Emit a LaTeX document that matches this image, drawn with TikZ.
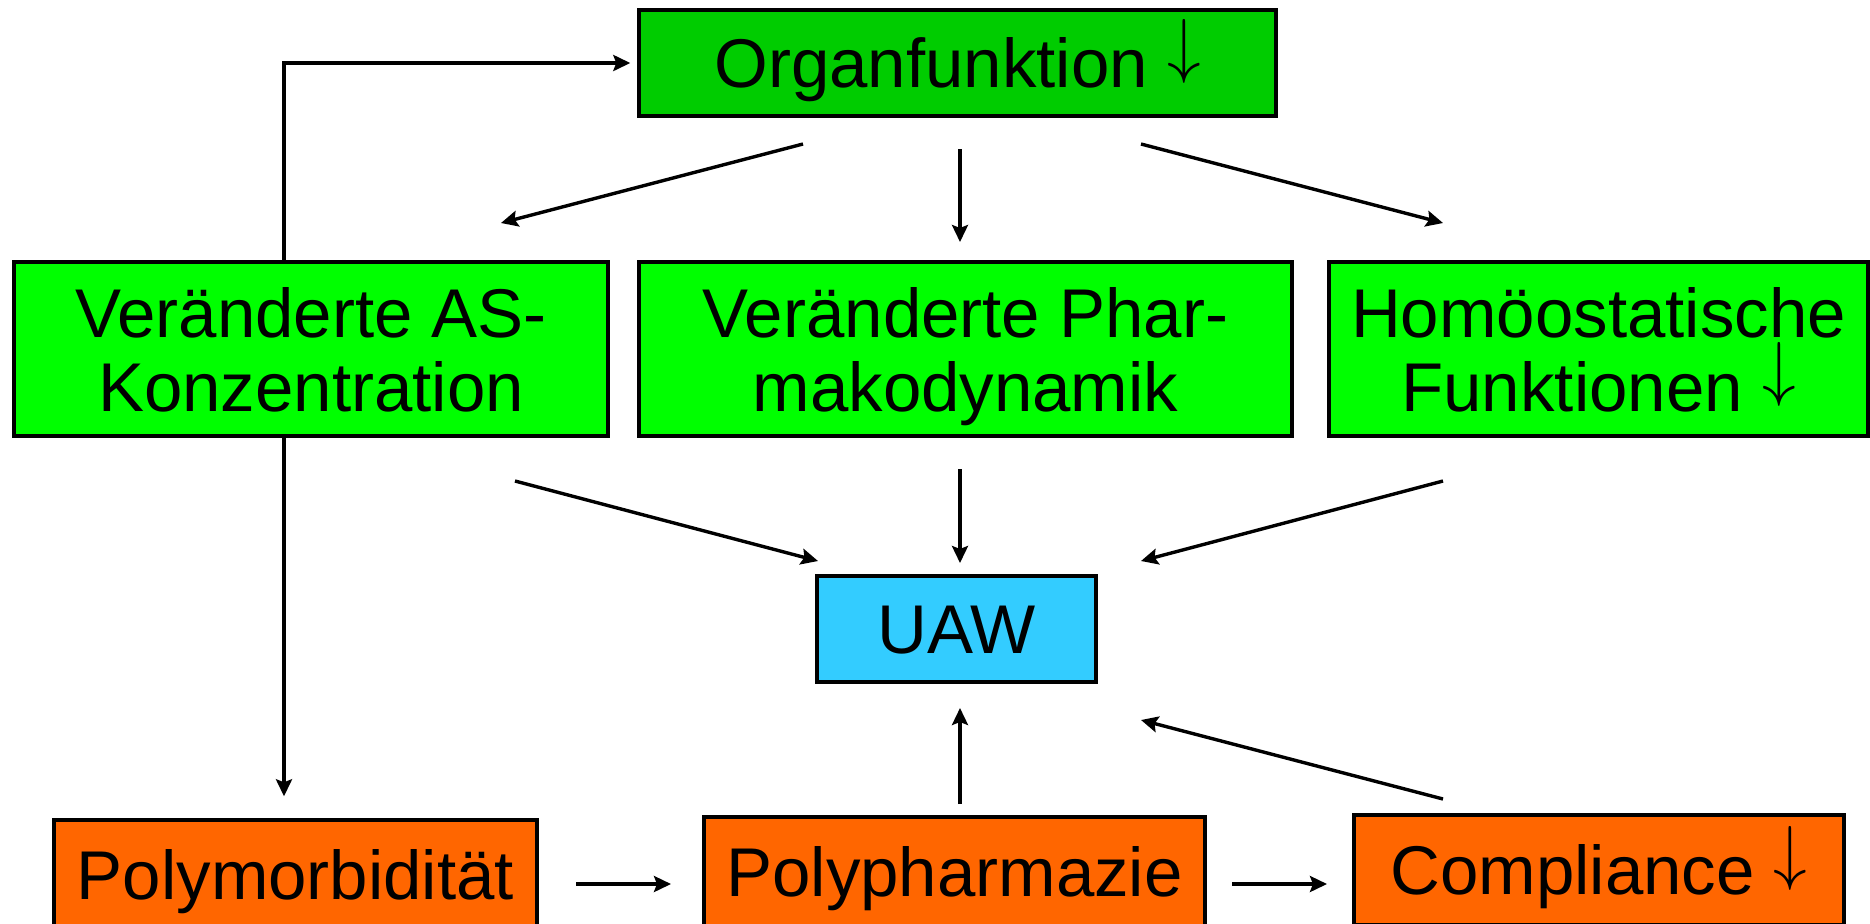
\documentclass[tikz,border=0pt]{standalone}
\usepackage{fontspec}
\setmainfont{Liberation Sans}
\usetikzlibrary{arrows.meta}
\definecolor{dunkelgruen}{HTML}{00CC00}
\definecolor{hellgruen}{HTML}{00FF00}
\definecolor{hellblau}{HTML}{33CCFF}
\definecolor{orange}{HTML}{FF6600}
\newcommand{\runter}{\raisebox{0.27em}[0.72em][0pt]{\scalebox{1.35}[1.45]{$\downarrow$}}}

\begin{document}
\begin{tikzpicture}[x=0.5pt,y=-0.5pt,
  box/.style={draw,line width=1.7pt,align=center,inner sep=0pt,
    font=\fontsize{34.5}{37}\selectfont,text height=24.7pt,text depth=0pt},
  zweizeilig/.style={box,minimum height=87pt,fill=hellgruen,text height=62.4pt,text depth=0pt},
  pfeil/.style={line width=1.7pt,-{Stealth[length=8.5pt,width=8pt,inset=1.5pt]}}]
\clip (0,0) rectangle (1870,923);
% Kaesten
\node[box,fill=dunkelgruen,minimum width=318.5pt,minimum height=53pt] (organ) at (957.5,63) {Organfunktion \runter};
\node[zweizeilig,minimum width=297pt] (konz) at (311,349) {Veränderte AS-\\Konzentration};
\node[zweizeilig,minimum width=326.5pt] (pd) at (965.5,349) {Veränderte Phar-\\makodynamik};
\node[zweizeilig,minimum width=269.5pt] (homoeo) at (1598.5,349) {Homöostatische\\Funktionen \runter};
\node[box,fill=hellblau,minimum width=139.5pt,minimum height=53pt] (uaw) at (956.5,629) {UAW};
\node[box,fill=orange,minimum width=241.5pt,minimum height=55pt] (morb) at (295.5,875) {Polymorbidität};
\node[box,fill=orange,minimum width=250.5pt,minimum height=55pt] (pharm) at (954.5,872) {Polypharmazie};
\node[box,fill=orange,minimum width=245pt,minimum height=55pt] (compl) at (1599,870) {Compliance \runter};
% Pfeilenden
\coordinate (o1) at (803,144);  \coordinate (k1) at (501,223);
\coordinate (o2) at (1141,144); \coordinate (h1) at (1443,223);
\coordinate (o3) at (960,149);  \coordinate (d1) at (960,242);
\coordinate (k2) at (515,481);  \coordinate (u1) at (818,561);
\coordinate (h2) at (1443,481); \coordinate (u2) at (1141,561);
\coordinate (d2) at (960,469);  \coordinate (u4) at (960,563);
\coordinate (p3) at (960,804);  \coordinate (u5) at (960,708);
\coordinate (c1) at (1443,799); \coordinate (u3) at (1141,720);
\coordinate (m1) at (576,884);  \coordinate (p1) at (671,884);
\coordinate (p2) at (1232,884); \coordinate (c2) at (1327,884);
\coordinate (lx) at (284,0);
% Pfeile
\draw[pfeil] (o1) -- (k1);
\draw[pfeil] (o2) -- (h1);
\draw[pfeil] (o3) -- (d1);
\draw[pfeil] (k2) -- (u1);
\draw[pfeil] (h2) -- (u2);
\draw[pfeil] (d2) -- (u4);
\draw[pfeil] (p3) -- (u5);
\draw[pfeil] (c1) -- (u3);
\draw[pfeil] (m1) -- (p1);
\draw[pfeil] (p2) -- (c2);
\draw[pfeil,shorten >=3.5pt] (konz.north -| lx) |- (organ.west);
\draw[pfeil,shorten >=11pt] (konz.south -| lx) -- (morb.north -| lx);
\end{tikzpicture}
\end{document}
